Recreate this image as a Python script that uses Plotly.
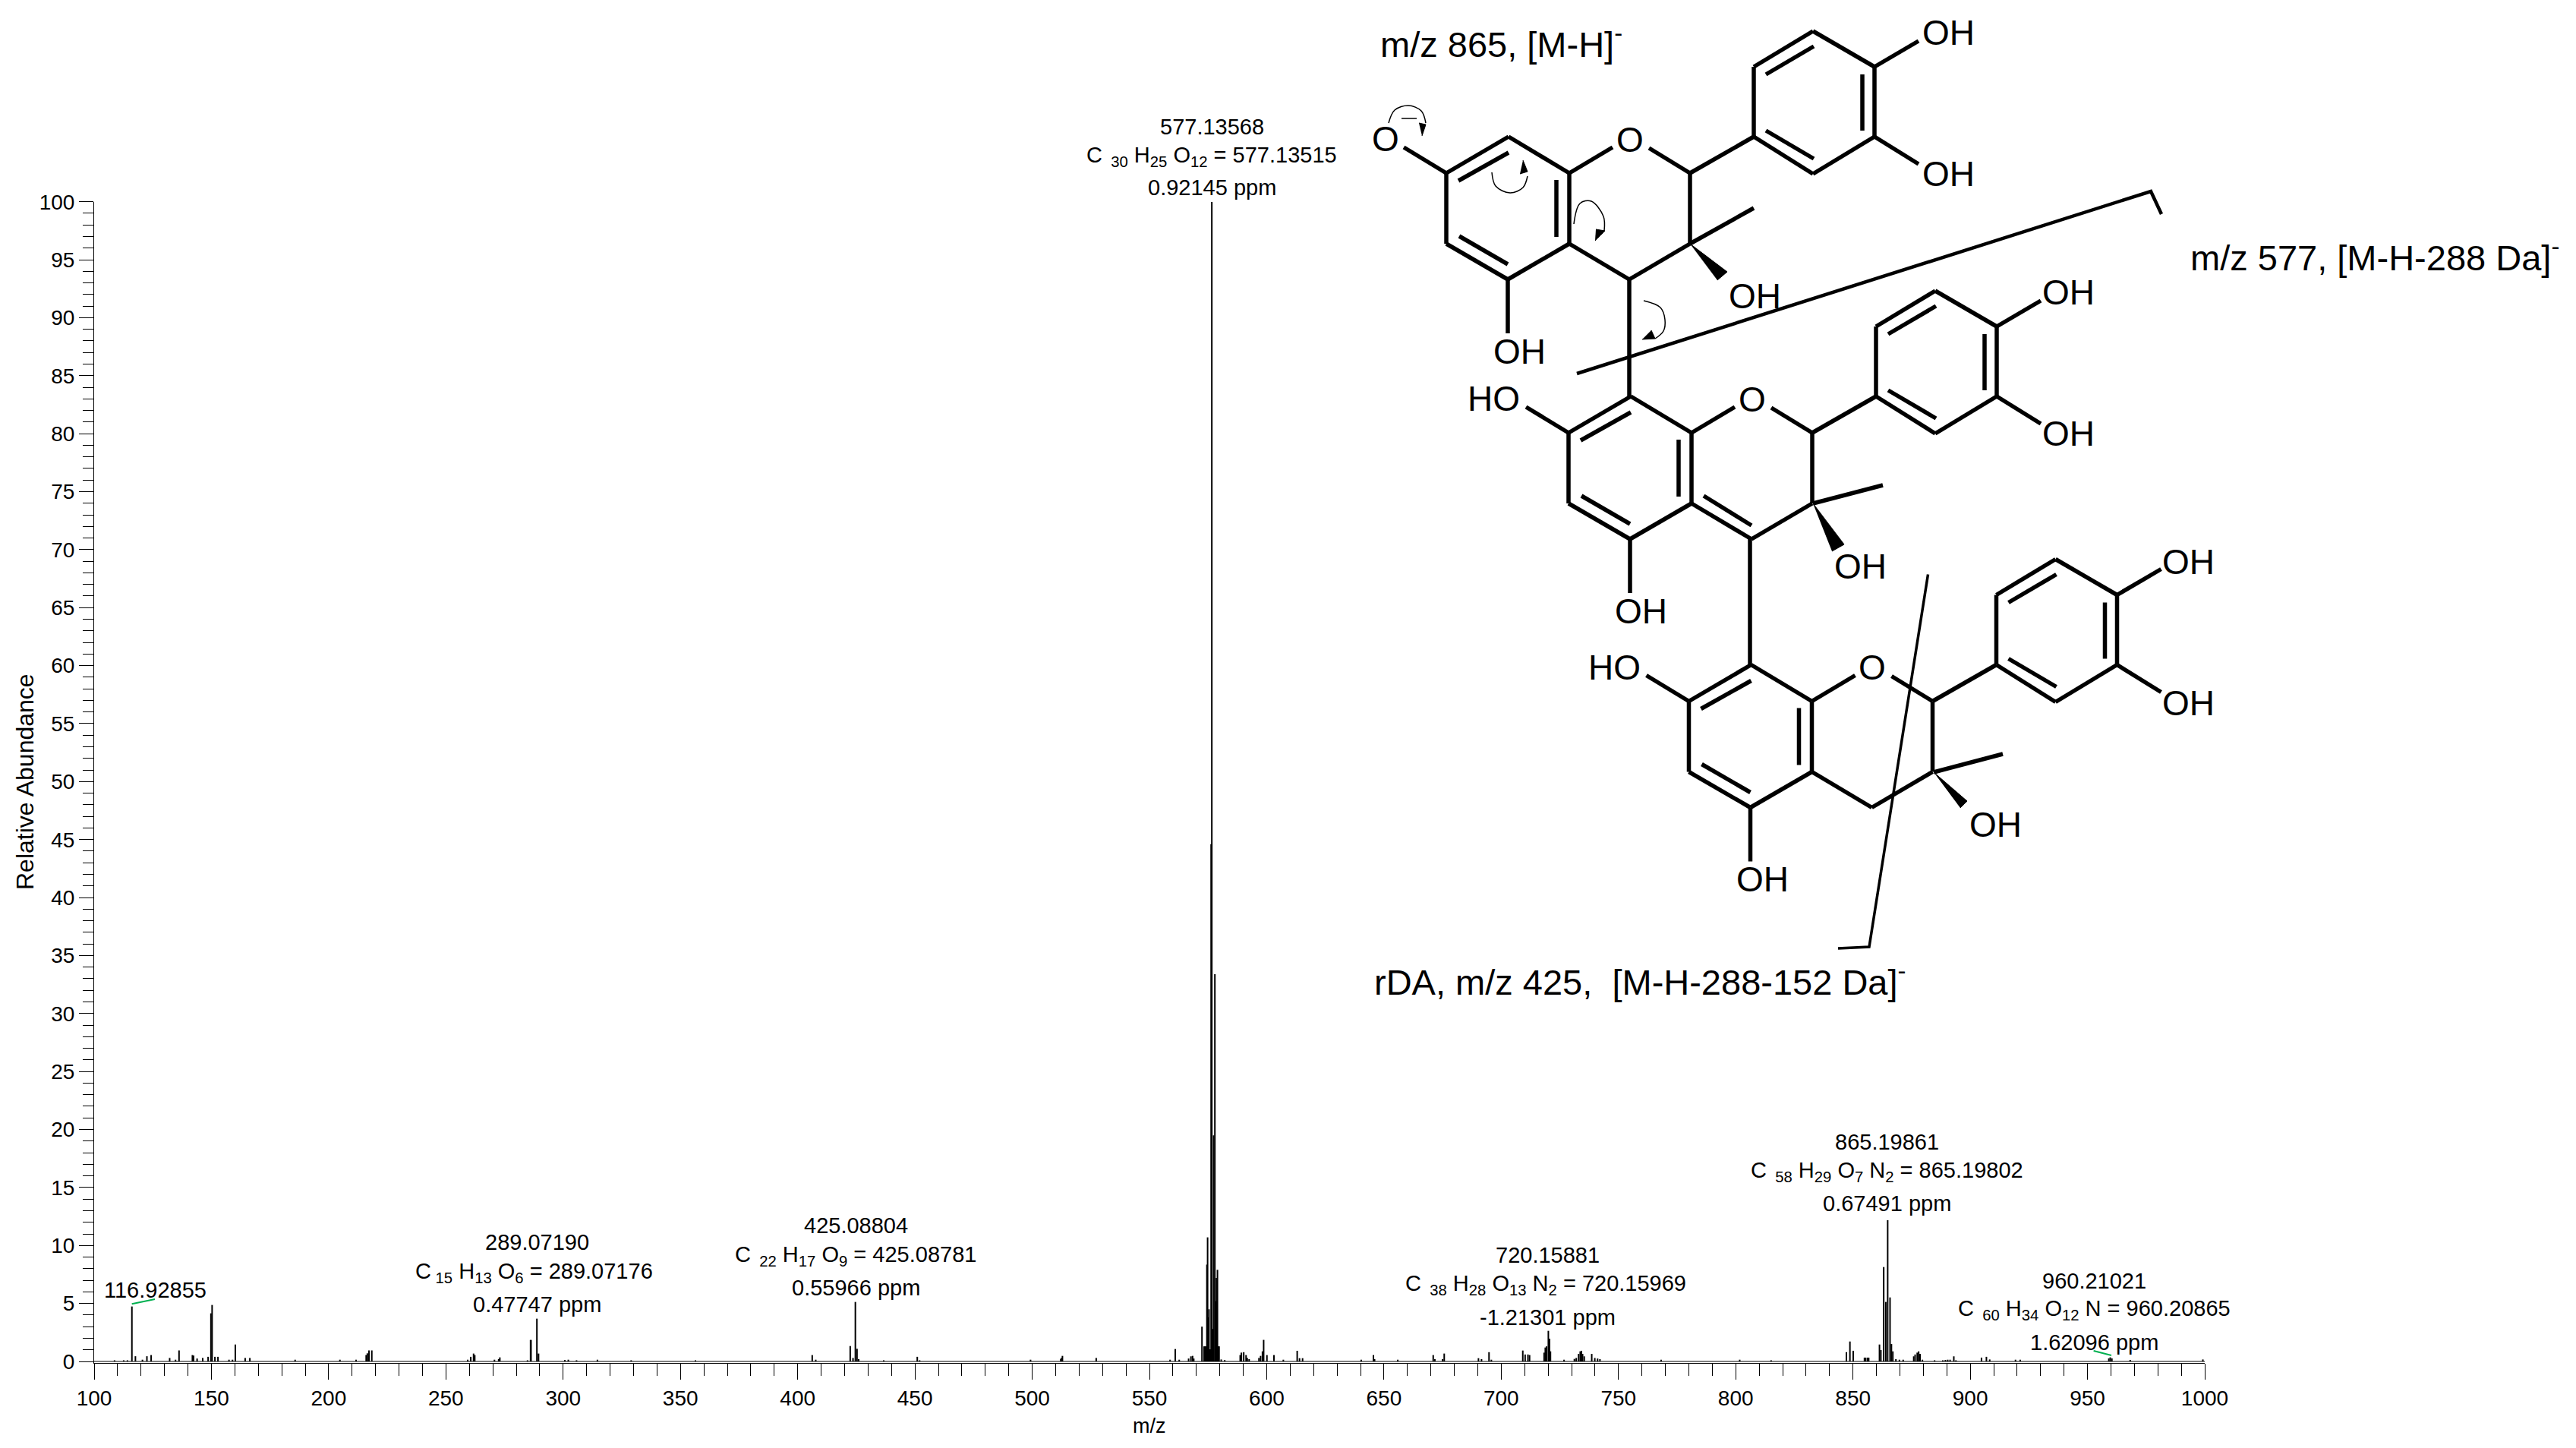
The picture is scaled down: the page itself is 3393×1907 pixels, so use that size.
import plotly.graph_objects as go

W, H = 3393, 1907
FONT = "Liberation Sans"

# spectrum sticks, m/z and relative abundance by region
mz_low = [108.7, 112.6, 114.2, 116.1, 117.6, 120.6, 122.5, 124.3, 132.2, 134.7, 136.2, 141.9, 142.4, 143.9, 146.3,
          148.6, 149.8, 150.3, 151.5, 152.8, 157.5, 159.0, 160.2, 164.4, 166.4, 185.7, 204.8, 211.7, 216.0, 216.5,
          217.2, 218.4, 259.3, 260.6, 261.8, 262.3, 270.7, 272.5, 273.0, 284.8, 286.1, 286.3, 288.8, 289.5]
int_low = [0.1, 0.1, 0.1, 4.74, 0.45, 0.15, 0.45, 0.55, 0.3, 0.15, 0.95, 0.55, 0.5, 0.25, 0.3,
           0.4, 4.15, 4.87, 0.4, 0.4, 0.15, 0.15, 1.46, 0.3, 0.3, 0.15, 0.15, 0.15, 0.55, 0.7,
           0.95, 0.95, 0.15, 0.4, 0.68, 0.55, 0.15, 0.2, 0.35, 0.1, 1.85, 1.85, 3.69, 0.68]

mz_mid = [300.7, 302.2, 305.7, 314.6, 329.0, 356.4, 406.2, 407.7, 422.4, 423.6, 424.6, 425.3, 426.0, 436.7,
          451.0, 452.0, 499.3, 512.2, 512.4, 512.9, 527.3, 558.8, 561.0, 562.7, 566.7, 567.7, 568.4, 568.9]
int_mid = [0.13, 0.15, 0.1, 0.15, 0.1, 0.1, 0.55, 0.15, 1.33, 0.3, 5.13, 1.09, 0.2, 0.1,
           0.4, 0.1, 0.15, 0.2, 0.3, 0.48, 0.3, 0.15, 1.07, 0.15, 0.25, 0.44, 0.48, 0.25]

mz_base = [572.4, 573.3, 573.7, 574.0, 574.5, 574.8, 575.1, 575.4, 575.9, 576.3, 576.6, 577.1, 577.4, 577.9,
           578.3, 578.6, 579.0, 579.4, 579.7, 580.6, 582.1]
int_base = [3.0, 1.3, 1.3, 1.3, 8.35, 10.7, 3.8, 4.5, 1.05, 44.6, 100.0, 2.8, 19.5, 33.4,
            5.2, 7.2, 7.9, 1.3, 1.3, 0.17, 0.12]

mz_high = [588.7, 589.2, 590.2, 591.2, 591.7, 592.5, 596.7, 597.4, 598.2, 598.7, 600.1, 603.1, 607.1, 613.0, 614.0,
           615.3, 640.3, 645.5, 646.0, 655.9, 671.0, 671.7, 675.0, 675.7, 690.3, 691.6, 694.8, 695.8, 709.2, 710.2,
           711.4, 712.1, 718.3, 718.8, 719.3, 720.1, 720.6, 721.0, 726.8, 731.2, 732.0, 733.0, 733.7, 734.2, 734.7,
           735.4, 738.6, 739.9, 741.1, 742.1, 768.2]
int_high = [0.55, 0.76, 0.8, 0.55, 0.3, 0.2, 0.3, 0.48, 0.87, 1.86, 0.55, 0.55, 0.15, 0.92, 0.28,
            0.28, 0.15, 0.55, 0.2, 0.15, 0.55, 0.2, 0.2, 0.68, 0.28, 0.2, 0.8, 0.15, 0.94, 0.6,
            0.6, 0.55, 0.76, 1.2, 1.3, 2.64, 1.96, 0.87, 0.15, 0.22, 0.3, 0.65, 0.87, 0.92, 0.65,
            0.44, 0.65, 0.3, 0.25, 0.2, 0.15]

mz_top = [801.7, 815.1, 847.2, 848.7, 850.1, 854.9, 855.4, 856.2, 856.7, 861.3, 861.9, 863.1, 864.0, 864.8, 865.8,
          866.4, 867.0, 868.3, 869.8, 871.4, 875.9, 876.5, 877.4, 878.0, 878.6, 879.6, 884.8, 888.3, 889.4, 890.4,
          891.4, 893.0, 893.9, 904.8, 906.9, 908.3, 919.3, 921.3, 959.1, 959.7, 960.4, 968.2, 999.2]
int_top = [0.15, 0.1, 0.8, 1.72, 0.92, 0.33, 0.33, 0.33, 0.33, 1.46, 0.98, 8.14, 5.13, 12.18, 5.52,
           1.5, 0.87, 0.2, 0.15, 0.15, 0.44, 0.6, 0.76, 0.87, 0.65, 0.15, 0.1, 0.1, 0.13, 0.15,
           0.15, 0.44, 0.1, 0.33, 0.4, 0.17, 0.15, 0.15, 0.26, 0.35, 0.26, 0.13, 0.17]

x_ticks = list(range(100, 1001, 50))
y_ticks = list(range(0, 101, 5))

# peak labels, one row per line of text: text, centre x, centre y in page pixels
peak_labels = [
    ("116.92855", 204, 1699),
    ("289.07190", 707, 1636),
    ("C<sub> 15</sub> H<sub>13</sub> O<sub>6</sub> = 289.07176", 703, 1676),
    ("0.47747 ppm", 707, 1718),
    ("425.08804", 1127, 1614),
    ("C<sub>  22</sub> H<sub>17</sub> O<sub>9</sub> = 425.08781", 1127, 1654),
    ("0.55966 ppm", 1127, 1696),
    ("577.13568", 1596, 167),
    ("C<sub>  30</sub> H<sub>25</sub> O<sub>12</sub> = 577.13515", 1596, 206),
    ("0.92145 ppm", 1596, 247),
    ("720.15881", 2038, 1653),
    ("C<sub>  38</sub> H<sub>28</sub> O<sub>13</sub> N<sub>2</sub> = 720.15969", 2036, 1692),
    ("-1.21301 ppm", 2038, 1735),
    ("865.19861", 2485, 1504),
    ("C<sub>  58</sub> H<sub>29</sub> O<sub>7</sub> N<sub>2</sub> = 865.19802", 2485, 1543),
    ("0.67491 ppm", 2485, 1585),
    ("960.21021", 2758, 1687),
    ("C<sub>  60</sub> H<sub>34</sub> O<sub>12</sub> N = 960.20865", 2758, 1725),
    ("1.62096 ppm", 2758, 1768),
]

# fragment captions, left anchored
captions = [
    ("m/z 865, [M-H]<sup>-</sup>", 1816, 55),
    ("m/z 577, [M-H-288 Da]<sup>-</sup>", 2883, 336),
    ("rDA, m/z 425,  [M-H-288-152 Da]<sup>-</sup>", 1808, 1290),
]

# one flavan unit in page pixels, the others are the same unit shifted
ring_bonds = [
    (1905, 228, 1987, 180), (1987, 180, 2067, 228), (2067, 228, 2067, 321), (2067, 321, 1986, 368),
    (1986, 368, 1905, 321), (1905, 321, 1905, 228), (2067, 228, 2124, 194), (2172, 195, 2226, 228),
    (2226, 228, 2226, 321), (2226, 321, 2146, 368), (2146, 368, 2067, 321), (2226, 228, 2310, 180),
    (2310, 180, 2388, 229), (2388, 229, 2469, 180), (2469, 180, 2469, 88), (2469, 88, 2388, 41),
    (2388, 41, 2310, 88), (2310, 88, 2310, 180),
    # inner lines of the double bonds
    (1921, 238, 1987, 201), (2050, 237, 2050, 312), (1922, 311, 1986, 348),
    (2326, 98, 2389, 61), (2453, 98, 2453, 172), (2326, 172, 2389, 209),
    # hydroxyl stubs
    (1905, 228, 1849, 194), (2469, 88, 2527, 54), (2469, 180, 2527, 216), (1986, 368, 1986, 439),
]
unit_shifts = [(0, 0), (161, 342), (319.5, 695.5)]

# bonds that differ from one unit to the next
extra_bonds = [
    (2226, 321, 2310, 274),
    (2146, 368, 2146, 523),
    (2388, 663, 2480, 639),
    (2244, 653, 2307, 692),
    (2305, 709, 2305, 877),
    (2547, 1017, 2638, 993),
]
wedges = [
    [(2226, 321), (2275, 358), (2262, 369)],
    [(2388, 663), (2429, 717), (2413, 726)],
    [(2547, 1017), (2591, 1055), (2582, 1064)],
]
atom_labels = [
    ("O", 1825, 183),
    ("HO", 1967, 525), ("HO", 2126, 879),
    ("O", 2147, 184), ("O", 2308, 526), ("O", 2466, 879),
    ("OH", 2566, 43), ("OH", 2566, 229), ("OH", 2724, 385), ("OH", 2724, 571), ("OH", 2882, 740), ("OH", 2882, 926),
    ("OH", 2001, 463), ("OH", 2161, 805), ("OH", 2321, 1158),
    ("OH", 2311, 390), ("OH", 2450, 746), ("OH", 2628, 1086),
]

# cut lines of the fragments
cut_upper_x = [2077, 2833, 2847]
cut_upper_y = [492, 252, 282]
cut_lower_x = [2539.5, 2462, 2421]
cut_lower_y = [756.5, 1247, 1249]

# curved electron arrows
arrow_curves = [
    [(1829, 162), (1837, 145), (1855, 139), (1872, 146), (1878, 162)],
    [(1965, 227), (1970, 245), (1989, 254), (2006, 247), (2012, 232)],
    [(2073, 295), (2081, 268), (2096, 265), (2112, 285), (2113, 304)],
    [(2165, 396), (2187, 405), (2193, 421), (2191, 436), (2180, 446)],
]
arrow_heads = [
    [(1869, 162), (1878, 164), (1873, 179)],
    [(2002, 229), (2012, 226), (2006, 211)],
    [(2102, 302), (2114, 304), (2101, 317)],
    [(2175, 435), (2180, 446), (2163, 447)],
]
charge_dash = [(1846, 156), (1866, 156)]

# green leader lines of two labels
leader_lines = [(173.7, 1717.3, 204, 1711), (2757.6, 1779, 2781, 1785)]


def sticks(mz, ab):
    xs, ys = [], []
    for m, a in zip(mz, ab):
        xs += [m, m, None]
        ys += [0, a, None]
    return xs, ys


def segments(rows):
    xs, ys = [], []
    for x1, y1, x2, y2 in rows:
        xs += [x1, x2, None]
        ys += [y1, y2, None]
    return xs, ys


fig = go.Figure()

# baseline of the spectrum
fig.add_trace(go.Scatter(x=[100, 1000], y=[0, 0], mode="lines", line=dict(color="black", width=1.2), hoverinfo="skip"))
for mz, ab in [(mz_low, int_low), (mz_mid, int_mid), (mz_base, int_base), (mz_high, int_high), (mz_top, int_top)]:
    sx, sy = sticks(mz, ab)
    fig.add_trace(go.Scatter(x=sx, y=sy, mode="lines", line=dict(color="black", width=2)))

# structure drawing goes on a second pair of axes that spans the page in pixels
bond_rows = []
for dx, dy in unit_shifts:
    bond_rows += [(a + dx, b + dy, c + dx, d + dy) for a, b, c, d in ring_bonds]
bond_rows += extra_bonds
bx, by = segments(bond_rows)
fig.add_trace(go.Scatter(x=bx, y=by, xaxis="x2", yaxis="y2", mode="lines", line=dict(color="black", width=5.5)))

for w in wedges + arrow_heads:
    fig.add_trace(go.Scatter(x=[p[0] for p in w], y=[p[1] for p in w], xaxis="x2", yaxis="y2", mode="lines",
                             fill="toself", fillcolor="black", line=dict(color="black", width=1)))
for c in arrow_curves:
    fig.add_trace(go.Scatter(x=[p[0] for p in c], y=[p[1] for p in c], xaxis="x2", yaxis="y2", mode="lines",
                             line=dict(color="black", width=1.5, shape="spline")))
fig.add_trace(go.Scatter(x=[p[0] for p in charge_dash], y=[p[1] for p in charge_dash], xaxis="x2", yaxis="y2",
                         mode="lines", line=dict(color="black", width=1.5)))
fig.add_trace(go.Scatter(x=cut_upper_x, y=cut_upper_y, xaxis="x2", yaxis="y2", mode="lines",
                         line=dict(color="black", width=4.5)))
fig.add_trace(go.Scatter(x=cut_lower_x, y=cut_lower_y, xaxis="x2", yaxis="y2", mode="lines",
                         line=dict(color="black", width=3.5)))
gx, gy = segments(leader_lines)
fig.add_trace(go.Scatter(x=gx, y=gy, xaxis="x2", yaxis="y2", mode="lines", line=dict(color="#00b050", width=2)))

for text, x, y in peak_labels:
    fig.add_annotation(x=x, y=y, xref="x2", yref="y2", text=text, showarrow=False, xanchor="center", yanchor="middle",
                       font=dict(family=FONT, size=29, color="black"))
for text, x, y in captions:
    fig.add_annotation(x=x, y=y, xref="x2", yref="y2", text=text, showarrow=False, xanchor="left", yanchor="middle",
                       font=dict(family=FONT, size=47, color="black"))
for text, x, y in atom_labels:
    fig.add_annotation(x=x, y=y, xref="x2", yref="y2", text=text, showarrow=False, xanchor="center", yanchor="middle",
                       font=dict(family=FONT, size=46, color="black"))

# axis titles
fig.add_annotation(x=1514, y=1878, xref="x2", yref="y2", text="m/z", showarrow=False,
                   font=dict(family=FONT, size=27, color="black"))
fig.add_annotation(x=33, y=1030, xref="x2", yref="y2", text="Relative Abundance", showarrow=False, textangle=-90,
                   font=dict(family=FONT, size=32, color="black"))

fig.update_layout(
    width=W, height=H, showlegend=False, plot_bgcolor="rgba(0,0,0,0)", paper_bgcolor="white",
    margin=dict(l=0, r=0, t=0, b=0, autoexpand=False), font=dict(family=FONT, size=28, color="black"),
    xaxis=dict(domain=[124 / W, 2904 / W], range=[100, 1000], anchor="y", tickmode="array", tickvals=x_ticks,
               automargin=False, showgrid=False, zeroline=False, showline=True, linecolor="black", linewidth=1,
               ticks="outside", ticklen=21, tickwidth=1, tickcolor="black", tickfont=dict(family=FONT, size=28),
               minor=dict(dtick=10, tick0=100, ticks="outside", ticklen=16, tickwidth=1, tickcolor="black")),
    yaxis=dict(domain=[112 / H, (H - 265.7) / H], range=[-0.131, 100], anchor="x", tickmode="array", tickvals=y_ticks,
               automargin=False, showgrid=False, zeroline=False, showline=True, linecolor="black", linewidth=1,
               ticks="outside", ticklen=19, tickwidth=1, tickcolor="black", tickfont=dict(family=FONT, size=28),
               minor=dict(dtick=1, tick0=0, ticks="outside", ticklen=14, tickwidth=1, tickcolor="black")),
    xaxis2=dict(domain=[0, 1], range=[0, W], anchor="y2", visible=False, automargin=False),
    yaxis2=dict(domain=[0, 1], range=[H, 0], anchor="x2", visible=False, automargin=False),
)

fig.write_html("out.html", config=dict(displayModeBar=False),
               post_script="document.body.style.margin='0';document.body.style.overflow='hidden';")
